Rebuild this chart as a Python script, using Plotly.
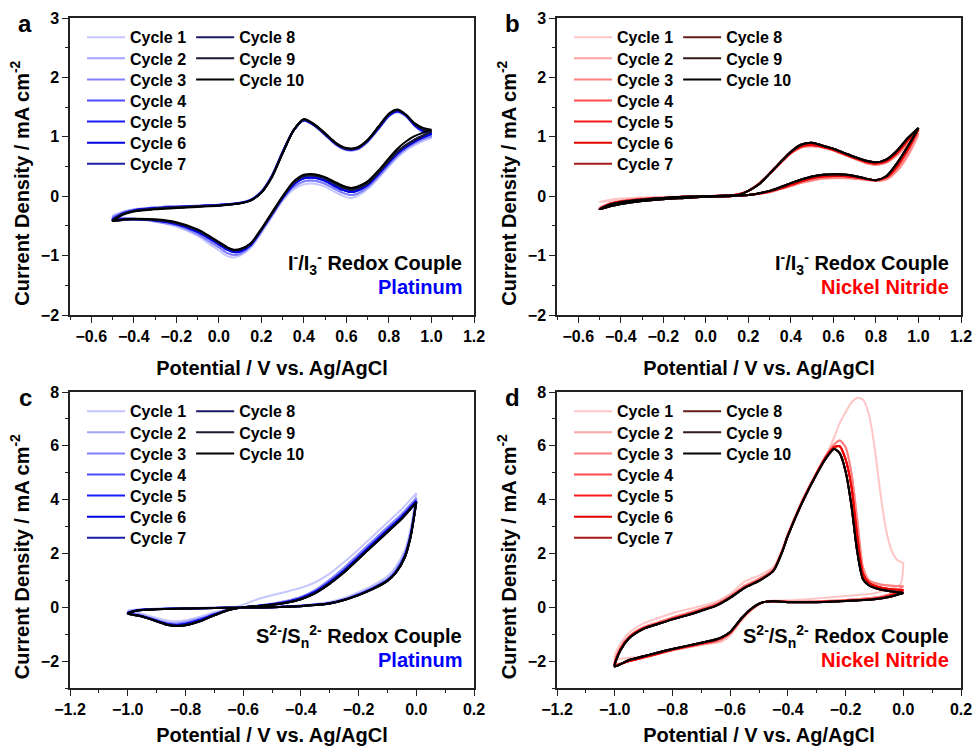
import plotly.graph_objects as go

FONT = "Liberation Sans, Arial, sans-serif"

CYCLE_NAMES = ["Cycle 1", "Cycle 2", "Cycle 3", "Cycle 4", "Cycle 5",
               "Cycle 6", "Cycle 7", "Cycle 8", "Cycle 9", "Cycle 10"]
BLUE_SHADES = ["#c6c6ff", "#a3a3ff", "#8080ff", "#4d4dff", "#1a1aff",
               "#0000e0", "#1c1ca6", "#1a1a66", "#1a1a33", "#000000"]
RED_SHADES = ["#ffc6c6", "#ffa3a3", "#ff8080", "#ff4d4d", "#ff1a1a",
              "#e60000", "#a61a1a", "#661a1a", "#331a1a", "#000000"]

# ---------------- Panel a : Pt, I-/I3- ----------------
A_E_FWD = [-0.5, -0.45, -0.4, -0.3, -0.2, -0.1, 0.0, 0.1, 0.15, 0.2, 0.25, 0.3, 0.35, 0.4,
           0.45, 0.5, 0.55, 0.6, 0.65, 0.7, 0.75, 0.8, 0.84, 0.88, 0.92, 0.96, 1.0]
A_I_FWD_1 = [-0.33, -0.26, -0.22, -0.19, -0.17, -0.16, -0.145, -0.11, -0.06, 0.08, 0.35, 0.75, 1.1, 1.27,
             1.18, 1.02, 0.86, 0.77, 0.78, 0.91, 1.12, 1.34, 1.41, 1.34, 1.18, 1.06, 0.98]
A_I_FWD_2 = [-0.36, -0.27, -0.23, -0.19, -0.17, -0.16, -0.145, -0.11, -0.06, 0.08, 0.35, 0.75, 1.1, 1.28,
             1.19, 1.03, 0.87, 0.78, 0.79, 0.92, 1.13, 1.35, 1.42, 1.35, 1.19, 1.08, 1.01]
A_I_FWD_4 = [-0.39, -0.29, -0.24, -0.2, -0.18, -0.165, -0.15, -0.115, -0.065, 0.07, 0.34, 0.74, 1.1, 1.28,
             1.19, 1.04, 0.88, 0.79, 0.8, 0.93, 1.14, 1.36, 1.43, 1.36, 1.2, 1.1, 1.05]
A_I_FWD_7 = [-0.41, -0.3, -0.25, -0.21, -0.19, -0.17, -0.155, -0.12, -0.07, 0.06, 0.33, 0.73, 1.1, 1.29,
             1.2, 1.05, 0.89, 0.8, 0.81, 0.94, 1.16, 1.38, 1.45, 1.37, 1.22, 1.13, 1.09]
A_I_FWD_10 = [-0.42, -0.31, -0.26, -0.22, -0.2, -0.18, -0.16, -0.12, -0.07, 0.06, 0.32, 0.72, 1.1, 1.3,
              1.21, 1.06, 0.9, 0.81, 0.82, 0.95, 1.17, 1.39, 1.46, 1.37, 1.23, 1.15, 1.12]
A_E_REV = [1.0, 0.96, 0.92, 0.88, 0.84, 0.8, 0.75, 0.7, 0.65, 0.62, 0.58, 0.54, 0.5, 0.45, 0.4, 0.35,
           0.3, 0.25, 0.2, 0.15, 0.1, 0.07, 0.04, 0.0, -0.05, -0.1, -0.2, -0.3, -0.4, -0.45, -0.5]
A_I_REV_1 = [0.98, 0.93, 0.86, 0.77, 0.65, 0.5, 0.3, 0.12, 0.0, -0.03, 0.01, 0.08, 0.16, 0.21, 0.2, 0.11,
             -0.08, -0.35, -0.62, -0.87, -1.0, -1.03, -1.01, -0.91, -0.79, -0.67, -0.51, -0.43, -0.38, -0.36, -0.33]
A_I_REV_2 = [1.01, 0.96, 0.89, 0.8, 0.68, 0.53, 0.33, 0.15, 0.04, 0.02, 0.06, 0.13, 0.21, 0.26, 0.25, 0.15,
             -0.05, -0.32, -0.59, -0.84, -0.97, -0.99, -0.96, -0.86, -0.75, -0.64, -0.49, -0.42, -0.38, -0.37, -0.36]
A_I_REV_4 = [1.05, 0.99, 0.92, 0.83, 0.72, 0.57, 0.37, 0.19, 0.09, 0.07, 0.11, 0.18, 0.26, 0.31, 0.3, 0.19,
             -0.03, -0.3, -0.57, -0.82, -0.93, -0.94, -0.9, -0.81, -0.7, -0.6, -0.47, -0.41, -0.39, -0.39, -0.39]
A_I_REV_7 = [1.09, 1.02, 0.95, 0.86, 0.75, 0.6, 0.4, 0.22, 0.13, 0.11, 0.15, 0.22, 0.3, 0.35, 0.34, 0.22,
             -0.01, -0.29, -0.56, -0.8, -0.9, -0.91, -0.87, -0.78, -0.67, -0.57, -0.45, -0.4, -0.39, -0.4, -0.41]
A_I_REV_10 = [1.12, 1.07, 1.01, 0.92, 0.8, 0.64, 0.43, 0.25, 0.16, 0.14, 0.18, 0.25, 0.32, 0.37, 0.36, 0.24,
              0.0, -0.27, -0.55, -0.79, -0.89, -0.9, -0.86, -0.77, -0.66, -0.56, -0.44, -0.39, -0.38, -0.39, -0.42]
A_FWD_BY_CYCLE = [A_I_FWD_1, A_I_FWD_2, A_I_FWD_2, A_I_FWD_4, A_I_FWD_4,
                  A_I_FWD_4, A_I_FWD_7, A_I_FWD_7, A_I_FWD_7, A_I_FWD_10]
A_REV_BY_CYCLE = [A_I_REV_1, A_I_REV_2, A_I_REV_2, A_I_REV_4, A_I_REV_4,
                  A_I_REV_4, A_I_REV_7, A_I_REV_7, A_I_REV_7, A_I_REV_10]

# ---------------- Panel b : Ni nitride, I-/I3- ----------------
B_E_FWD = [-0.5, -0.45, -0.4, -0.3, -0.2, -0.1, 0.0, 0.1, 0.15, 0.2, 0.25, 0.3, 0.35, 0.4, 0.45,
           0.5, 0.55, 0.6, 0.65, 0.7, 0.75, 0.8, 0.85, 0.9, 0.95, 1.0]
B_I_FWD_1 = [-0.1, -0.08, -0.06, -0.04, -0.03, -0.02, -0.01, 0.0, 0.01, 0.02, 0.04, 0.07, 0.12, 0.17, 0.22,
             0.26, 0.29, 0.3, 0.3, 0.29, 0.27, 0.26, 0.28, 0.42, 0.66, 1.02]
B_I_FWD_2 = [-0.19, -0.15, -0.11, -0.07, -0.04, -0.02, -0.01, 0.0, 0.01, 0.02, 0.04, 0.07, 0.12, 0.17, 0.23,
             0.27, 0.3, 0.31, 0.31, 0.3, 0.28, 0.26, 0.29, 0.44, 0.7, 1.06]
B_I_FWD_4 = [-0.21, -0.16, -0.12, -0.075, -0.045, -0.025, -0.01, 0.0, 0.01, 0.02, 0.04, 0.08, 0.13, 0.19, 0.25,
             0.3, 0.33, 0.34, 0.34, 0.32, 0.29, 0.27, 0.32, 0.5, 0.78, 1.12]
B_I_FWD_10 = [-0.22, -0.17, -0.13, -0.08, -0.05, -0.03, -0.01, 0.0, 0.01, 0.02, 0.05, 0.09, 0.15, 0.22, 0.28,
              0.33, 0.36, 0.37, 0.365, 0.34, 0.3, 0.27, 0.34, 0.56, 0.84, 1.15]
B_E_REV = [1.0, 0.95, 0.9, 0.85, 0.8, 0.75, 0.7, 0.65, 0.6, 0.55, 0.5, 0.45, 0.4, 0.35, 0.3, 0.25,
           0.2, 0.15, 0.1, 0.0, -0.1, -0.2, -0.3, -0.4, -0.45, -0.5]
B_I_REV_1 = [1.02, 0.86, 0.68, 0.56, 0.53, 0.57, 0.64, 0.72, 0.79, 0.84, 0.87, 0.85, 0.75, 0.58, 0.4, 0.22,
             0.1, 0.03, 0.01, 0.0, 0.0, -0.01, -0.02, -0.04, -0.06, -0.1]
B_I_REV_2 = [1.06, 0.89, 0.7, 0.57, 0.53, 0.56, 0.63, 0.7, 0.77, 0.82, 0.84, 0.82, 0.72, 0.55, 0.38, 0.21,
             0.09, 0.03, 0.01, 0.0, -0.01, -0.02, -0.04, -0.08, -0.12, -0.19]
B_I_REV_4 = [1.12, 0.94, 0.73, 0.59, 0.55, 0.58, 0.64, 0.71, 0.78, 0.83, 0.86, 0.84, 0.73, 0.56, 0.38, 0.21,
             0.09, 0.03, 0.01, 0.0, -0.01, -0.03, -0.05, -0.09, -0.13, -0.21]
B_I_REV_10 = [1.15, 0.98, 0.77, 0.62, 0.57, 0.6, 0.66, 0.73, 0.8, 0.85, 0.9, 0.87, 0.75, 0.57, 0.38, 0.2,
              0.09, 0.02, 0.01, 0.0, -0.01, -0.03, -0.06, -0.1, -0.14, -0.22]
B_FWD_BY_CYCLE = [B_I_FWD_1, B_I_FWD_2, B_I_FWD_2, B_I_FWD_4, B_I_FWD_4,
                  B_I_FWD_4, B_I_FWD_10, B_I_FWD_10, B_I_FWD_10, B_I_FWD_10]
B_REV_BY_CYCLE = [B_I_REV_1, B_I_REV_2, B_I_REV_2, B_I_REV_4, B_I_REV_4,
                  B_I_REV_4, B_I_REV_10, B_I_REV_10, B_I_REV_10, B_I_REV_10]

# ---------------- Panel c : Pt, S2-/Sn2- ----------------
C_E_FWD = [-1.0, -0.97, -0.93, -0.9, -0.8, -0.7, -0.6, -0.5, -0.4, -0.35, -0.3, -0.25, -0.2, -0.15,
           -0.1, -0.07, -0.04, -0.02, 0.0]
C_I_FWD_1 = [-0.12, -0.08, -0.06, -0.05, -0.04, -0.02, 0.0, 0.02, 0.07, 0.12, 0.2, 0.35, 0.56, 0.82,
             1.15, 1.52, 2.12, 2.9, 4.24]
C_I_FWD_2 = [-0.18, -0.1, -0.07, -0.06, -0.04, -0.02, -0.01, 0.01, 0.06, 0.1, 0.17, 0.3, 0.5, 0.74,
             1.05, 1.4, 1.98, 2.75, 4.05]
C_I_FWD_4 = [-0.22, -0.12, -0.08, -0.06, -0.05, -0.03, -0.01, 0.0, 0.05, 0.09, 0.15, 0.28, 0.47, 0.7,
             1.0, 1.33, 1.9, 2.65, 3.95]
C_I_FWD_10 = [-0.24, -0.13, -0.09, -0.07, -0.05, -0.03, -0.01, 0.0, 0.04, 0.08, 0.14, 0.27, 0.45, 0.68,
              0.98, 1.3, 1.85, 2.6, 3.9]
C_E_REV = [0.0, -0.05, -0.1, -0.15, -0.2, -0.25, -0.3, -0.35, -0.4, -0.45, -0.5, -0.55, -0.6, -0.65,
           -0.7, -0.75, -0.8, -0.83, -0.86, -0.9, -0.95, -1.0]
C_I_REV_1 = [4.24, 3.65, 3.15, 2.65, 2.15, 1.68, 1.25, 0.93, 0.72, 0.58, 0.45, 0.3, 0.1, -0.05,
             -0.18, -0.35, -0.48, -0.52, -0.5, -0.4, -0.24, -0.12]
C_I_REV_2 = [4.05, 3.47, 2.97, 2.47, 1.97, 1.47, 1.02, 0.64, 0.38, 0.23, 0.13, 0.06, 0.0, -0.08,
             -0.24, -0.42, -0.56, -0.6, -0.58, -0.47, -0.3, -0.18]
C_I_REV_4 = [3.95, 3.37, 2.87, 2.37, 1.87, 1.37, 0.94, 0.58, 0.34, 0.2, 0.11, 0.05, 0.0, -0.09,
             -0.27, -0.47, -0.62, -0.66, -0.63, -0.5, -0.33, -0.22]
C_I_REV_10 = [3.9, 3.3, 2.8, 2.3, 1.8, 1.3, 0.88, 0.53, 0.3, 0.17, 0.09, 0.04, 0.0, -0.1,
              -0.3, -0.52, -0.67, -0.7, -0.66, -0.52, -0.34, -0.24]
C_FWD_BY_CYCLE = [C_I_FWD_1, C_I_FWD_2, C_I_FWD_2, C_I_FWD_4, C_I_FWD_4,
                  C_I_FWD_4, C_I_FWD_10, C_I_FWD_10, C_I_FWD_10, C_I_FWD_10]
C_REV_BY_CYCLE = [C_I_REV_1, C_I_REV_2, C_I_REV_2, C_I_REV_4, C_I_REV_4,
                  C_I_REV_4, C_I_REV_10, C_I_REV_10, C_I_REV_10, C_I_REV_10]

# ---------------- Panel d : Ni nitride, S2-/Sn2- ----------------
D_E_FWD = [-1.0, -0.98, -0.95, -0.9, -0.85, -0.8, -0.75, -0.7, -0.65, -0.6, -0.55, -0.5, -0.45, -0.42,
           -0.4, -0.35, -0.3, -0.27, -0.24, -0.22, -0.2, -0.18, -0.16, -0.14, -0.12, -0.1, -0.08, -0.06,
           -0.04, -0.02, 0.0]
D_I_FWD_1 = [-1.9, -1.35, -0.95, -0.6, -0.4, -0.22, -0.08, 0.05, 0.2, 0.5, 0.95, 1.18, 1.5, 2.15,
             2.75, 4.0, 5.05, 5.6, 6.3, 6.85, 7.25, 7.6, 7.78, 7.72, 7.2, 6.0, 4.3, 2.9,
             2.1, 1.75, 1.65]
D_I_FWD_2 = [-2.1, -1.5, -1.08, -0.74, -0.56, -0.38, -0.22, -0.05, 0.12, 0.42, 0.8, 1.06, 1.42, 2.1,
             2.7, 3.95, 5.0, 5.6, 6.05, 6.2, 5.95, 5.0, 3.3, 1.5, 1.02, 0.9, 0.85, 0.82,
             0.8, 0.79, 0.78]
D_I_FWD_4 = [-2.15, -1.55, -1.12, -0.78, -0.6, -0.43, -0.28, -0.11, 0.07, 0.37, 0.74, 1.0, 1.37, 2.07,
             2.67, 3.92, 4.98, 5.55, 5.95, 5.98, 5.5, 4.5, 2.7, 1.25, 0.92, 0.8, 0.74, 0.7,
             0.67, 0.65, 0.63]
D_I_FWD_10 = [-2.2, -1.6, -1.15, -0.8, -0.62, -0.45, -0.3, -0.13, 0.05, 0.35, 0.72, 0.98, 1.35, 2.05,
              2.65, 3.9, 4.95, 5.5, 5.88, 5.72, 5.05, 3.8, 2.1, 1.05, 0.82, 0.72, 0.66, 0.62,
              0.59, 0.56, 0.53]
D_E_REV = [0.0, -0.01, -0.05, -0.1, -0.2, -0.3, -0.4, -0.45, -0.48, -0.5, -0.53, -0.56, -0.6, -0.63,
           -0.65, -0.7, -0.8, -0.85, -0.9, -0.95, -1.0]
D_I_REV_1 = [1.65, 0.85, 0.68, 0.52, 0.42, 0.33, 0.26, 0.25, 0.2, 0.1, -0.15, -0.5, -1.05, -1.28,
             -1.32, -1.4, -1.6, -1.72, -1.82, -1.88, -1.9]
D_I_REV_2 = [0.78, 0.7, 0.48, 0.36, 0.27, 0.22, 0.21, 0.23, 0.2, 0.12, -0.1, -0.43, -0.98, -1.2,
             -1.28, -1.38, -1.6, -1.74, -1.88, -2.0, -2.1]
D_I_REV_4 = [0.63, 0.58, 0.42, 0.32, 0.24, 0.2, 0.2, 0.22, 0.2, 0.12, -0.1, -0.42, -0.95, -1.15,
             -1.23, -1.35, -1.58, -1.72, -1.86, -2.0, -2.15]
D_I_REV_10 = [0.53, 0.5, 0.38, 0.3, 0.23, 0.19, 0.19, 0.22, 0.2, 0.13, -0.08, -0.4, -0.92, -1.12,
              -1.2, -1.32, -1.55, -1.68, -1.82, -1.96, -2.2]
D_FWD_BY_CYCLE = [D_I_FWD_1, D_I_FWD_2, D_I_FWD_2, D_I_FWD_4, D_I_FWD_4,
                  D_I_FWD_4, D_I_FWD_10, D_I_FWD_10, D_I_FWD_10, D_I_FWD_10]
D_REV_BY_CYCLE = [D_I_REV_1, D_I_REV_2, D_I_REV_2, D_I_REV_4, D_I_REV_4,
                  D_I_REV_4, D_I_REV_10, D_I_REV_10, D_I_REV_10, D_I_REV_10]

# ---------------- layout geometry (pixels) ----------------
W, H = 974, 746
ML, MR, MT, MB = 70, 13, 18, 58
PW, PH = W - ML - MR, H - MT - MB


def px_to_paper_x(px):
    return (px - ML) / PW


def px_to_paper_y(py):
    return (H - MB - py) / PH


PANELS = [
    ("a", "x", "y", 70, 18, A_E_FWD, A_E_REV, A_FWD_BY_CYCLE, A_REV_BY_CYCLE, BLUE_SHADES,
     "I<sup>-</sup>/I<sub>3</sub><sup>-</sup> Redox Couple", "Platinum", "#0000ff"),
    ("b", "x2", "y2", 557, 18, B_E_FWD, B_E_REV, B_FWD_BY_CYCLE, B_REV_BY_CYCLE, RED_SHADES,
     "I<sup>-</sup>/I<sub>3</sub><sup>-</sup> Redox Couple", "Nickel Nitride", "#ff0000"),
    ("c", "x3", "y3", 70, 392, C_E_FWD, C_E_REV, C_FWD_BY_CYCLE, C_REV_BY_CYCLE, BLUE_SHADES,
     "S<sup>2-</sup>/S<sub>n</sub><sup>2-</sup> Redox Couple", "Platinum", "#0000ff"),
    ("d", "x4", "y4", 557, 392, D_E_FWD, D_E_REV, D_FWD_BY_CYCLE, D_REV_BY_CYCLE, RED_SHADES,
     "S<sup>2-</sup>/S<sub>n</sub><sup>2-</sup> Redox Couple", "Nickel Nitride", "#ff0000"),
]

fig = go.Figure()
layout_legends = {}
annotations = []

for p_idx, (letter, xa, ya, x0, y0, e_fwd, e_rev, fwd, rev, colors, t1, t2, t2c) in enumerate(PANELS):
    for i in range(10):
        row = i if i < 7 else i - 7
        n = p_idx * 7 + row + 1
        lid = "legend" if n == 1 else f"legend{n}"
        fig.add_trace(go.Scatter(
            x=e_fwd + e_rev, y=fwd[i] + rev[i], mode="lines", name=CYCLE_NAMES[i],
            line=dict(color=colors[i], width=2, shape="spline", smoothing=0.7),
            xaxis=xa, yaxis=ya, legend=lid, hoverinfo="skip"))
    for row in range(7):
        n = p_idx * 7 + row + 1
        lid = "legend" if n == 1 else f"legend{n}"
        layout_legends[lid] = dict(
            x=px_to_paper_x(x0 + 12), y=px_to_paper_y(y0 + 19.3 + row * 21.1),
            xanchor="left", yanchor="middle", orientation="h",
            bgcolor="rgba(0,0,0,0)", borderwidth=0,
            font=dict(family=FONT, size=16, color="black", weight="bold"),
            itemwidth=38, tracegroupgap=0)
    annotations.append(dict(text=f"<b>{letter}</b>", x=px_to_paper_x(x0 - 45), y=px_to_paper_y(y0 + 5),
                            xref="paper", yref="paper", xanchor="center", yanchor="middle",
                            showarrow=False, font=dict(family=FONT, size=24, color="black")))
    dom_x = "x domain" if xa == "x" else f"{xa} domain"
    dom_y = "y domain" if ya == "y" else f"{ya} domain"
    annotations.append(dict(text=t1, x=0.975, y=0.175, xref=dom_x, yref=dom_y,
                            xanchor="right", yanchor="middle", showarrow=False,
                            font=dict(family=FONT, size=20, color="black", weight="bold")))
    annotations.append(dict(text=t2, x=0.975, y=0.094, xref=dom_x, yref=dom_y,
                            xanchor="right", yanchor="middle", showarrow=False,
                            font=dict(family=FONT, size=20, color=t2c, weight="bold")))

axis_common = dict(showline=True, linecolor="#222222", linewidth=1.5, mirror=True,
                   ticks="outside", ticklen=6, tickwidth=1.3, tickcolor="#222222",
                   showgrid=False, zeroline=False, automargin=False,
                   tickfont=dict(family=FONT, size=16, color="black", weight="bold"),
                   title_font=dict(family=FONT, size=20, color="black", weight="bold"))

XDOM_L = [0.0, (474 - ML) / PW]
XDOM_R = [(557 - ML) / PW, 1.0]
YDOM_T = [px_to_paper_y(315), 1.0]
YDOM_B = [0.0, px_to_paper_y(392)]

XTITLE = "Potential / V vs. Ag/AgCl"
YTITLE = "Current Density / mA cm<sup>-2</sup>" + "&nbsp;" * 6


def xaxis_cfg(dom, rng, anchor):
    return dict(axis_common, domain=dom, range=rng, anchor=anchor, dtick=0.2, tick0=0,
                tickformat=".1f", minor=dict(ticks="outside", ticklen=3.5, tickwidth=1.2,
                                             tickcolor="#222222", dtick=0.1, tick0=0),
                title=dict(text=XTITLE, standoff=17))


def yaxis_cfg(dom, rng, dt, mdt, anchor):
    return dict(axis_common, domain=dom, range=rng, anchor=anchor, dtick=dt, tick0=0,
                minor=dict(ticks="outside", ticklen=3.5, tickwidth=1.2,
                           tickcolor="#222222", dtick=mdt, tick0=0),
                title=dict(text=YTITLE, standoff=6))


fig.update_layout(
    width=W, height=H, margin=dict(l=ML, r=MR, t=MT, b=MB),
    paper_bgcolor="white", plot_bgcolor="white",
    font=dict(family=FONT, color="black"),
    xaxis=xaxis_cfg(XDOM_L, [-0.7, 1.2], "y"),
    xaxis2=xaxis_cfg(XDOM_R, [-0.7, 1.2], "y2"),
    xaxis3=xaxis_cfg(XDOM_L, [-1.2, 0.2], "y3"),
    xaxis4=xaxis_cfg(XDOM_R, [-1.2, 0.2], "y4"),
    yaxis=yaxis_cfg(YDOM_T, [-2, 3], 1, 0.5, "x"),
    yaxis2=yaxis_cfg(YDOM_T, [-2, 3], 1, 0.5, "x2"),
    yaxis3=yaxis_cfg(YDOM_B, [-3, 8], 2, 1, "x3"),
    yaxis4=yaxis_cfg(YDOM_B, [-3, 8], 2, 1, "x4"),
    annotations=annotations,
    **layout_legends,
)

fig.write_html("out.html", config={"displayModeBar": False},
               post_script="document.body.style.margin='0px';")
